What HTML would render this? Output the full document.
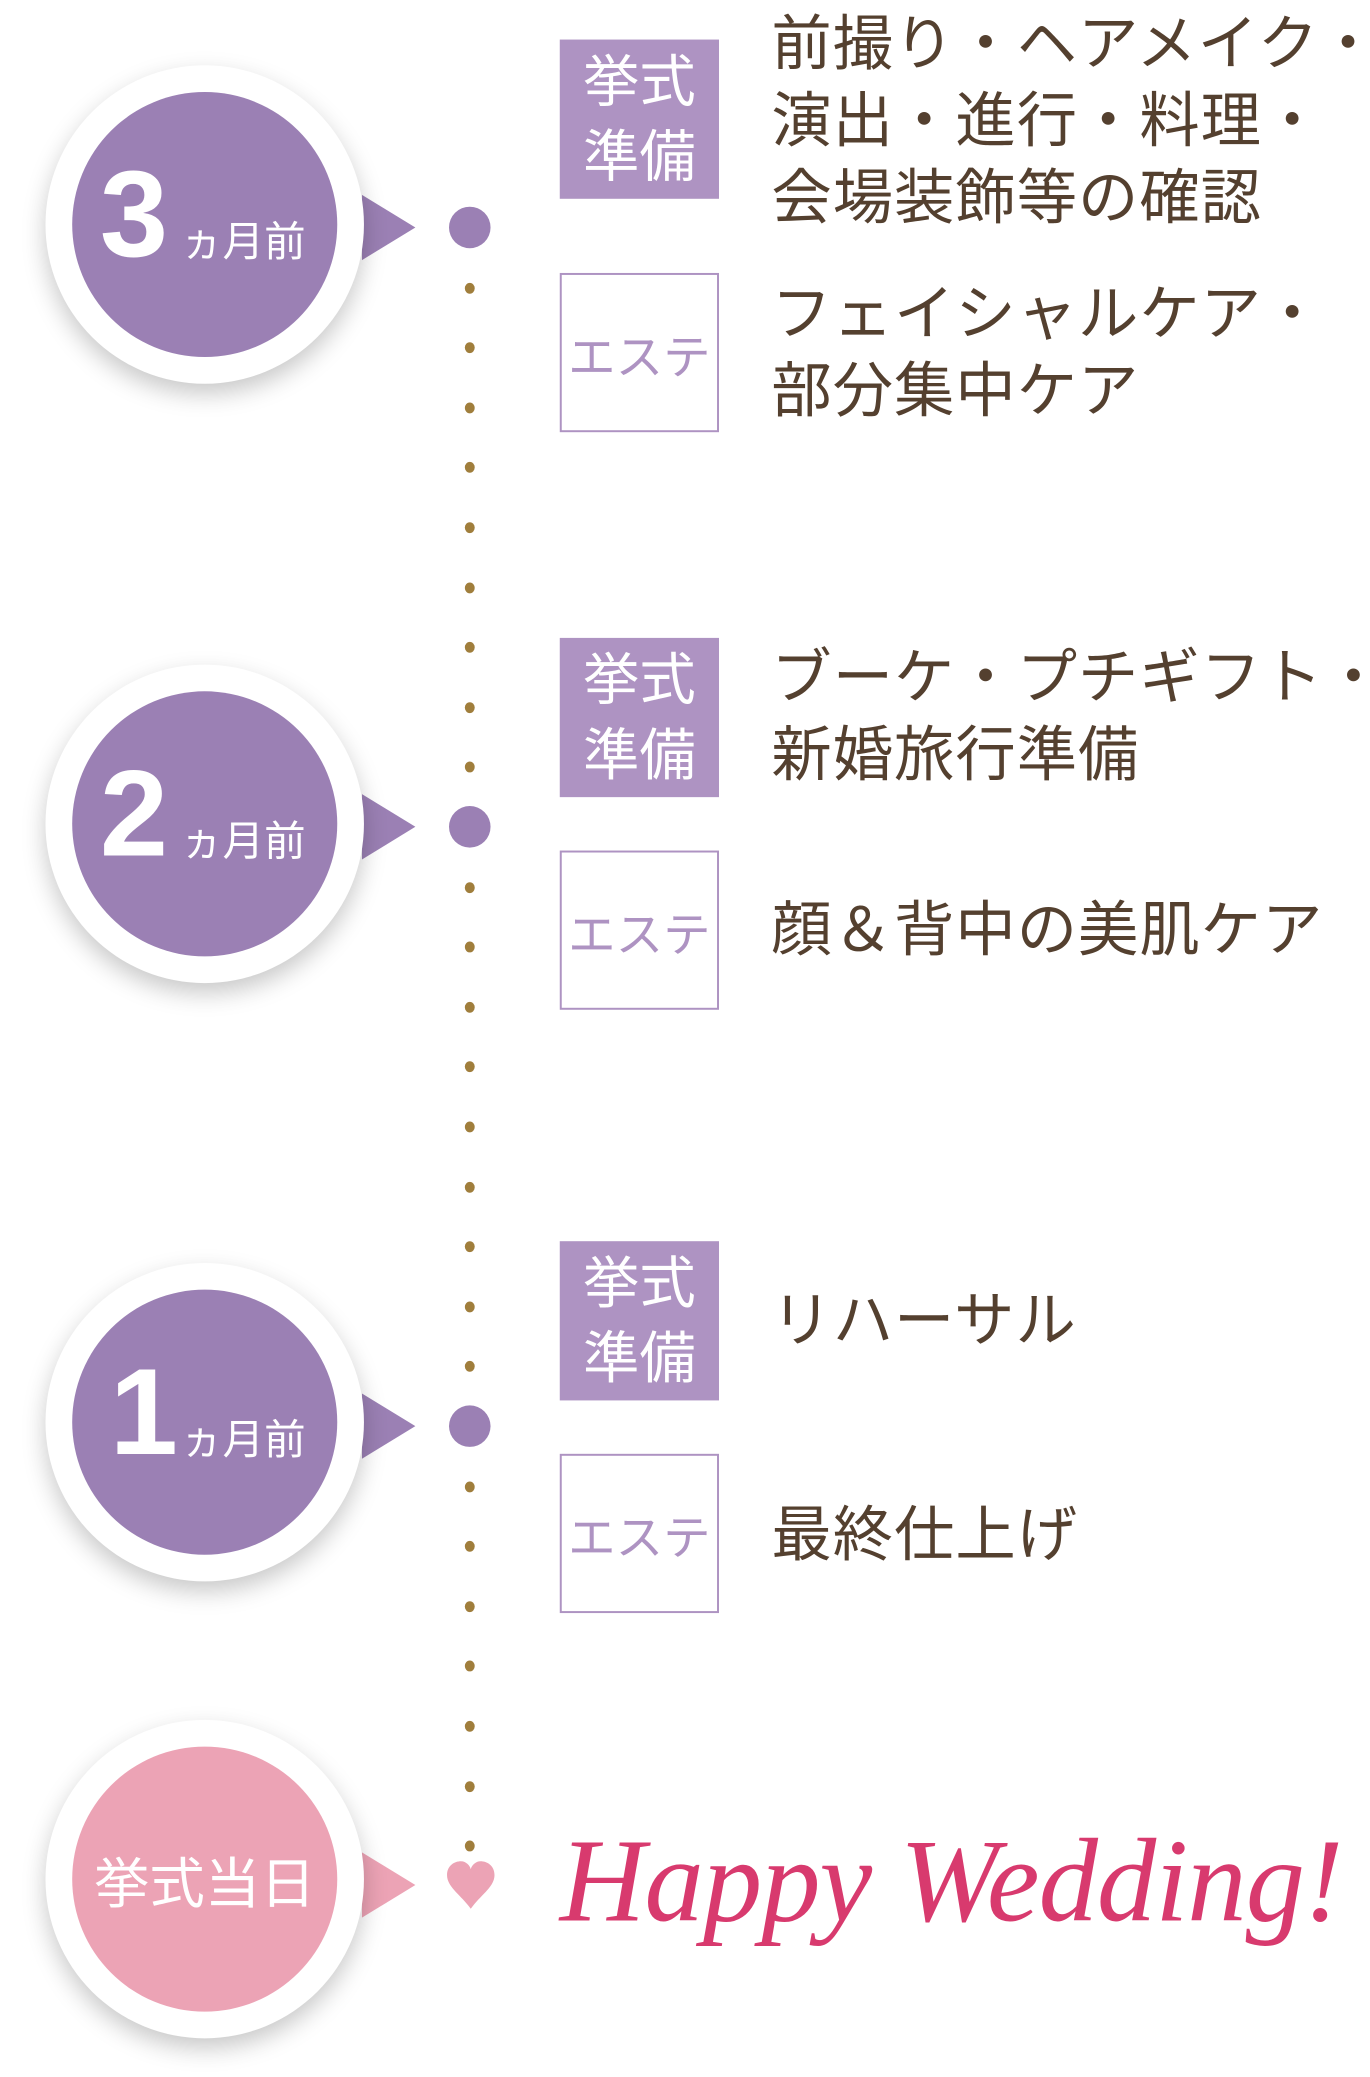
<!DOCTYPE html>
<html><head><meta charset="utf-8"><style>
html,body{margin:0;padding:0;background:#fff;}
body{width:1370px;height:2075px;position:relative;overflow:hidden;font-family:"Liberation Sans","Noto Sans CJK JP",sans-serif;}
#w{position:absolute;left:0;top:0;width:1390px;height:2100px;transform:scale(0.989);transform-origin:0 0;}
.a{position:absolute;}
.outer{position:absolute;width:322px;height:322px;border-radius:50%;background:#fff;box-shadow:0 10px 24px rgba(0,0,0,.22);}
.inner{position:absolute;left:27px;top:27px;width:268px;height:268px;border-radius:50%;background:#9b80b4;color:#fff;}
.tri{position:absolute;width:0;height:0;border-top:33px solid transparent;border-bottom:33px solid transparent;border-left:54px solid #9b80b4;}
.big{position:absolute;width:42px;height:42px;border-radius:50%;background:#9b80b4;}
.sd{position:absolute;width:10px;height:11px;border-radius:50%;background:#a07e3c;}
.bx{position:absolute;left:566px;width:161px;height:161px;background:#ae93c2;color:#fff;font-size:57px;line-height:76px;text-align:center;display:flex;align-items:center;justify-content:center;}
.es{position:absolute;left:566px;width:157px;height:157px;border:2px solid #ae93c2;background:#fff;color:#ae93c2;font-size:48px;display:flex;align-items:center;justify-content:center;}
.t{position:absolute;left:780px;color:#54402f;font-size:61px;letter-spacing:1px;line-height:78px;white-space:nowrap;}
.num{position:absolute;font-size:124px;font-weight:bold;line-height:1;left:28px;top:62px;}
.mo{position:absolute;font-size:42px;left:110px;top:118px;}
</style></head><body><div id="w">

<div class="tri" style="left:366px;top:197px"></div>
<div class="outer" style="left:46px;top:66px"><div class="inner"><span class="num">3</span><span class="mo">ヵ月前</span></div></div>
<div class="tri" style="left:366px;top:803px"></div>
<div class="outer" style="left:46px;top:672px"><div class="inner"><span class="num">2</span><span class="mo">ヵ月前</span></div></div>
<div class="tri" style="left:366px;top:1409px"></div>
<div class="outer" style="left:46px;top:1277px"><div class="inner"><span class="num" style="left:38px">1</span><span class="mo">ヵ月前</span></div></div>
<div class="tri" style="left:366px;top:1873px;border-left-color:#eca3b5"></div>
<div class="outer" style="left:46px;top:1739px"><div class="inner" style="background:#eca3b5;display:flex;align-items:center;justify-content:center;font-size:56px">挙式当日</div></div>

<div class="big" style="left:454px;top:209px"></div>
<div class="big" style="left:454px;top:815px"></div>
<div class="big" style="left:454px;top:1421px"></div>
<div id="dots"></div>
<svg class="a" style="left:448px;top:1880px" width="56" height="52" viewBox="0 0 56 52"><path d="M28 50 C18 36 4 28 4 16 C4 6 12 2 18 2 C23 2 27 6 28 10 C29 6 33 2 38 2 C44 2 52 6 52 16 C52 28 38 36 28 50Z" fill="#eca3b5"/></svg>

<div class="bx" style="top:40px">挙式<br>準備</div>
<div class="es" style="top:276px">エステ</div>
<div class="bx" style="top:645px">挙式<br>準備</div>
<div class="es" style="top:860px">エステ</div>
<div class="bx" style="top:1255px">挙式<br>準備</div>
<div class="es" style="top:1470px">エステ</div>

<div class="t" style="top:5px">前撮り・ヘアメイク・<br>演出・進行・料理・<br>会場装飾等の確認</div>
<div class="t" style="top:278px">フェイシャルケア・<br>部分集中ケア</div>
<div class="t" style="top:646px">ブーケ・プチギフト・<br>新婚旅行準備</div>
<div class="t" style="top:901px">顔＆背中の美肌ケア</div>
<div class="t" style="top:1296px">リハーサル</div>
<div class="t" style="top:1513px">最終仕上げ</div>

<div class="a" style="left:566px;top:1832px;font-family:'Liberation Serif',serif;font-style:italic;font-size:120px;line-height:140px;color:#d83a6e;white-space:nowrap;letter-spacing:-1px">Happy Wedding!</div>

<script>
var h='';
function row(y0){for(var k=1;k<=9;k++){var y=y0+60.6*k;h+='<div class="sd" style="left:470px;top:'+(y-5)+'px"></div>';}}
row(230);row(836);
for(var k=1;k<=7;k++){var y=1442+60.6*k;h+='<div class="sd" style="left:470px;top:'+(y-5)+'px"></div>';}
document.getElementById('dots').innerHTML=h;
</script>
</div></body></html>
